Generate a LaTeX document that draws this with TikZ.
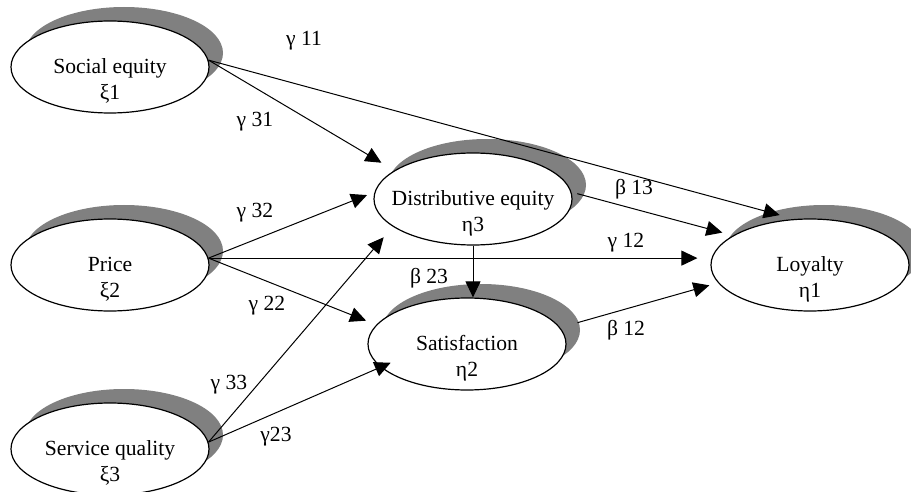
\documentclass[tikz,border=0pt]{standalone}
\usepackage{fontspec}
\setmainfont{Liberation Serif}
\usetikzlibrary{shapes.geometric,shadows,arrows.meta}

\begin{document}
\begin{tikzpicture}[x=.5pt,y=-.5pt,
  latent/.style={ellipse,draw,line width=.6pt,fill=white,minimum width=99pt,minimum height=46pt,inner sep=0pt,
    general shadow={fill=black!50,shadow xshift=7pt,shadow yshift=7pt}},
  inside/.style={align=center,yshift=-7pt,inner sep=0pt,font=\fontsize{10.8}{13}\selectfont},
  coef/.style={inner sep=1pt,font=\fontsize{10.8}{13}\selectfont},
  effect/.style={draw,line width=.5pt,-{Triangle[length=8pt,width=7.5pt]}}]
\path[use as bounding box] (0,0) rectangle (911,492);
\node[latent,label={[inside]center:Social equity\\ξ1}] (soc) at (110,67) {};
\node[latent,label={[inside]center:Price\\ξ2}] (pri) at (110,265) {};
\node[latent,label={[inside]center:Service quality\\ξ3}] (ser) at (110,449) {};
\node[latent,label={[inside]center:Distributive equity\\η3}] (dis) at (473,199) {};
\node[latent,label={[inside]center:Satisfaction\\η2}] (sat) at (467,344) {};
\node[latent,label={[inside]center:Loyalty\\η1}] (loy) at (810,265) {};

\draw[effect,shorten >=7.5pt] (soc.4) -- (dis.160.5);
\draw[effect,shorten >=7.5pt] (soc.4) -- (loy.109.3);
\draw[effect,shorten >=4pt] (pri.4) -- (dis.176.8);
\draw[effect,shorten >=6.5pt] (pri.4) -- (pri.4 -| loy.west);
\draw[effect,shorten >=5.5pt] (pri.4) -- (sat.168.3);
\draw[effect,shorten >=7pt] (ser.4) -- (dis.199.7);
\draw[effect,shorten >=-5.5pt] (ser.4) -- (sat.195.8);
\draw[effect] (dis.south) -- (dis.south |- sat.north);
\draw[effect,shorten <=3pt,shorten >=5.5pt] (dis.4) -- (loy.159.2);
\draw[effect,shorten <=9pt,shorten >=4.5pt] (sat.10) -- (loy.191.3);

\node[coef] (g11) at (304,41) {γ 11};
\node[coef] (g31) at (255,122) {γ 31};
\node[coef] (g32) at (255,213) {γ 32};
\node[coef] (g22) at (267,306) {γ 22};
\node[coef] (g33) at (229,385) {γ 33};
\node[coef] (g23) at (276,437) {γ23};
\node[coef] (b23) at (429,278) {β 23};
\node[coef] (b13) at (634,189) {β 13};
\node[coef] (g12) at (626,243) {γ 12};
\node[coef] (b12) at (626,330) {β 12};
\end{tikzpicture}
\end{document}
